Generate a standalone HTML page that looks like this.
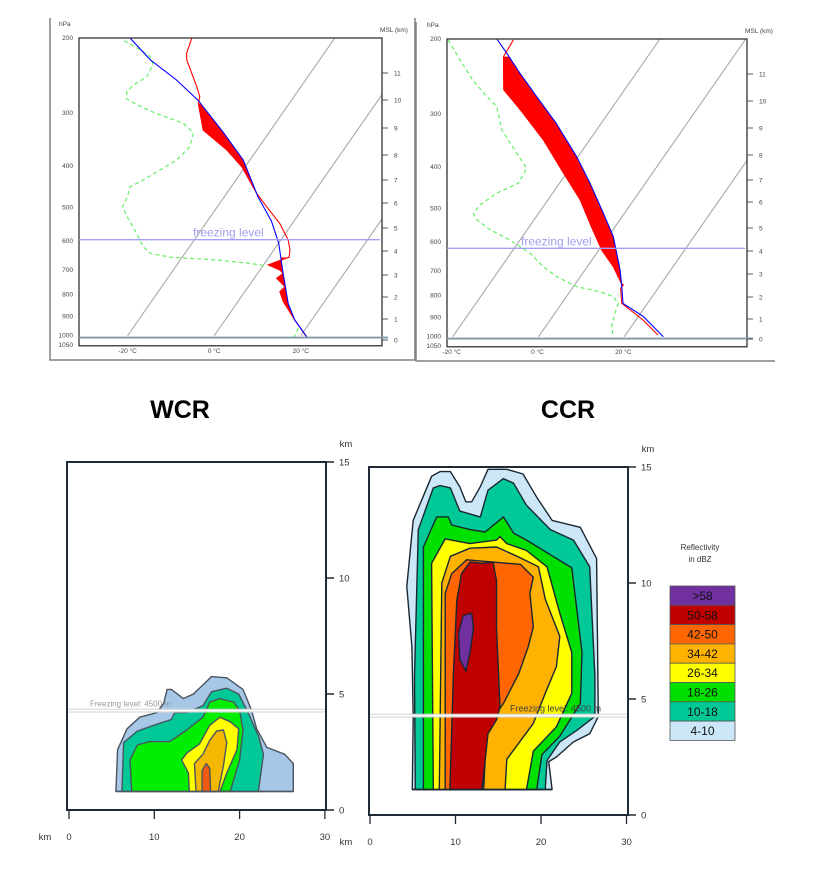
<!DOCTYPE html>
<html><head><meta charset="utf-8"><style>
html,body{margin:0;padding:0;background:#fff;}
svg{display:block;font-family:"Liberation Sans","DejaVu Sans",sans-serif;}
</style></head><body>
<svg id="root" width="820" height="880" viewBox="0 0 820 880" xmlns="http://www.w3.org/2000/svg">
<defs>
<clipPath id="clipL"><rect x="79" y="38" width="303" height="309"/></clipPath>
<clipPath id="clipR"><rect x="447" y="39" width="300" height="308"/></clipPath>
</defs>
<g id="skewL"></g>
<g id="skewR"></g>
<text x="180" y="418" font-size="25" font-weight="bold" text-anchor="middle">WCR</text>
<text x="568" y="418" font-size="25" font-weight="bold" text-anchor="middle">CCR</text>
<g id="radL"></g>
<g id="radR"></g>
<g id="legend"></g>
</svg>
<script>
// ---------- Skew-T data (T in °C, p in hPa) ----------
const wcrTempP=[200,217,225,260,275,285,329,366,401,463,498,545,596,629,654,661,682,701,714,733,767,788,832,919,1012];
const wcrTempT=[-53,-51.8,-50.7,-44.1,-41.7,-41,-35.6,-27,-20.8,-13.1,-8.6,-2.9,1.7,3.7,4.7,3.7,1.1,4.6,5.9,5.2,8.5,8.1,10.5,16.1,21.9];
const wcrParcelP=[200,225,251,280,334,387,472,537,606,714,840,919,1012];
const wcrParcelT=[-67.3,-59.1,-49.8,-41.6,-30.4,-21.5,-12.2,-5.3,0,5.9,11.9,16.1,21.9];
const wcrDewP=[203,211,221,231,247,258,267,277,287,301,317,334,360,387,408,431,447,463,485,498,525,575,618,640,654,664,676,686];
const wcrDewT=[-68.2,-64.1,-59.7,-57.7,-57.2,-59,-59.4,-58.5,-55,-49,-41.3,-37.4,-36,-36.9,-39.1,-41.4,-43.4,-42.7,-42.1,-41.9,-39.3,-34.4,-30.7,-28.1,-22.8,-11.6,-3.4,0.9];
const wcrDewSfcP=[960,1012];
const wcrDewSfcT=[18.2,18.8];
const wcrFillRanges=[[285,470],[655,919]];
const ccrTempP=[201,214,220,263,293,345,413,477,552,626,685,750,756,770,835,914,991];
const ccrTempT=[-54,-53.7,-53.6,-48.2,-41.1,-30.8,-20.7,-12.5,-5.5,0.7,6.1,10.7,11.4,11.3,14,21.7,27.6];
const ccrParcelP=[200,216,241,273,316,378,436,513,582,697,763,835,897,1000];
const ccrParcelT=[-58,-53.4,-47,-39.4,-30.4,-20.3,-12.9,-4.9,1.2,8.2,11.3,14.3,21.2,29.1];
const ccrDewP=[201,224,250,273,288,327,371,402,436,460,490,513,532,561,593,637,685,723,763,784,805,835,881,947,996];
const ccrDewT=[-69.2,-63.2,-56.9,-51,-47.1,-42.1,-34.8,-30.1,-29.6,-33,-35,-35.2,-33.3,-28.6,-22.3,-15.5,-10.2,-5.5,0.8,7,10.9,13.2,14,15.4,17.3];
const ccrFillRanges=[[220,756]];
const pressureTicks=[200,300,400,500,600,700,800,900,1000,1050];
const isotherms=[-20,0,20];
const kmTicksL=[0,1,2,3,4,5,6,7,8,9,10,11];
const kmTickYL=[340,319,297,275,251,228,203,180,155,128,100,73];
const kmTicksR=[0,1,2,3,4,5,6,7,8,9,10,11];
const kmTickYR=[339,319,297,274,251,228,202,180,155,128,101,74];

// ---------- Radar data (x in km, height in km) ----------
const wcrLevels=['4-10','10-18','18-26','26-34','34-42','42-50'];
const wcrColors=['#a7c7e7','#00c896','#00ee00','#ffff00','#f5b800','#f05a10'];
const wcrContour0=[[5.5,0.8],[5.7,2.6],[6.8,3.5],[8.3,4.0],[10.3,4.2],[11.1,4.6],[11.5,5.2],[12.0,5.2],[13.4,4.8],[14.6,5.0],[16.7,5.75],[18.5,5.7],[20.4,5.2],[21.4,4.3],[22.0,3.5],[23.2,2.7],[25.3,2.4],[26.3,2.0],[26.3,0.8]];
const wcrContour1=[[6.2,0.8],[6.4,2.9],[8.0,3.4],[10.3,3.7],[12.0,3.9],[12.4,4.2],[13.8,4.2],[15.7,4.5],[16.7,5.1],[18.5,5.25],[19.9,5.0],[21.0,4.2],[22.2,3.2],[22.8,2.4],[22.2,0.8]];
const wcrContour2=[[7.35,0.8],[7.15,2.15],[8.0,2.8],[9.5,2.95],[11.8,2.95],[13.8,3.45],[15.7,4.0],[16.5,4.65],[17.7,4.8],[19.3,4.65],[20.0,4.3],[20.4,3.45],[20.0,2.15],[18.9,0.8]];
const wcrContour3=[[14.1,0.8],[14.0,1.6],[13.2,2.15],[13.8,2.45],[15.3,2.85],[16.5,3.65],[17.7,4.0],[18.9,3.8],[19.9,3.5],[19.7,2.6],[18.5,1.6],[17.7,0.8]];
const wcrContour4=[[14.9,0.8],[14.7,2.0],[15.7,2.4],[16.5,3.0],[17.3,3.4],[18.1,3.45],[18.5,2.9],[18.1,1.9],[17.5,0.8]];
const wcrContour5=[[15.6,0.8],[15.6,1.7],[16.1,2.0],[16.5,1.8],[16.6,0.8]];
const ccrLevels=['>58','50-58','42-50','34-42','26-34','18-26','10-18','4-10'];
const ccrColors=['#7030a0','#c00000','#ff6600','#ffb300','#ffff00','#00e000','#00c896','#cce8f8'];
const ccrContour0=[[4.95,1.1],[5.05,4.25],[4.9,7.25],[4.3,9.85],[5.05,12.7],[7.2,14.6],[8.2,14.8],[9.4,14.8],[10.5,14.15],[11.2,13.5],[11.9,13.5],[12.9,14.15],[13.8,14.9],[16.0,14.9],[17.9,14.7],[19.5,13.7],[21.3,12.7],[24.6,12.4],[26.5,11.05],[26.7,4.25],[25.7,3.5],[23.8,3.15],[21.8,2.5],[20.9,2.3],[21.3,1.1]];
const ccrContour1=[[5.3,1.1],[5.2,6.0],[5.65,12.3],[7.4,14.1],[8.2,14.2],[9.4,14.1],[10.5,13.1],[12.9,12.85],[13.8,14.0],[15.6,14.5],[16.8,14.3],[18.3,13.35],[21.1,12.3],[23.8,11.85],[25.7,10.7],[26.3,6.0],[26.3,4.25],[24.2,3.65],[22.2,3.15],[20.7,2.35],[20.5,1.1]];
const ccrContour2=[[6.25,1.1],[6.25,11.55],[7.8,12.85],[9.15,12.85],[9.55,12.5],[11.7,12.3],[13.45,12.2],[14.8,12.6],[15.6,12.85],[16.8,12.15],[18.3,11.85],[21.4,11.15],[23.6,10.65],[24.8,7.0],[24.6,4.8],[22.2,3.4],[20.1,2.6],[19.5,1.1]];
const ccrContour3=[[7.4,1.1],[7.2,10.85],[8.8,11.9],[11.7,11.7],[14.8,11.85],[15.2,12.0],[16.0,11.7],[18.3,11.4],[20.7,10.7],[22.2,8.7],[23.6,7.0],[23.6,5.25],[21.8,3.8],[19.1,2.75],[18.3,1.1]];
const ccrContour4=[[8.1,1.1],[8.4,10.0],[9.4,11.15],[11.7,11.5],[14.8,11.55],[17.2,11.15],[19.7,10.7],[20.5,9.3],[22.2,7.7],[21.8,6.4],[20.5,5.25],[19.1,3.95],[16.0,2.4],[15.8,1.1]];
const ccrContour5=[[8.8,1.1],[8.8,9.55],[9.55,10.4],[11.3,11.0],[14.4,10.9],[17.6,10.8],[19.1,10.25],[18.7,9.55],[19.1,8.1],[18.5,7.25],[17.4,6.1],[15.6,4.8],[13.65,3.8],[13.3,1.1]];
const ccrContour6=[[9.35,1.1],[9.75,6.1],[10.15,9.25],[10.7,10.4],[11.7,10.9],[13.1,10.85],[14.4,10.9],[14.8,10.1],[14.8,8.1],[15.2,4.65],[14.8,4.1],[13.8,3.5],[13.1,1.1]];
const ccrContour7=[[10.35,7.85],[10.9,8.6],[11.9,8.7],[12.1,8.1],[11.7,7.0],[11.2,6.2],[10.5,6.7]];
const kmHeightTicks=[0,5,10,15];
const kmRangeTicks=[0,10,20,30];
const freezingKm=4.5;

const NS='http://www.w3.org/2000/svg';
function mk(parent,tag,attrs,text){const e=document.createElementNS(NS,tag);for(const k in attrs)e.setAttribute(k,attrs[k]);if(text!==undefined)e.textContent=text;parent.appendChild(e);return e;}

function skewT(g,o){
  const yP=p=>o.y0+185*Math.log(p/200);
  const xT=(T,p)=>o.x0+o.kx*T+0.696*(336-yP(p));
  const path=(P,T)=>P.map((p,i)=>(i?'L':'M')+xT(T[i],p).toFixed(1)+','+yP(p).toFixed(1)).join('');
  const interp=(P,T,p)=>{for(let i=0;i<P.length-1;i++){if(p>=P[i]&&p<=P[i+1]){const f=Math.log(p/P[i])/Math.log(P[i+1]/P[i]);return T[i]+f*(T[i+1]-T[i]);}}return p<P[0]?T[0]:T[T.length-1];};
  // frame
  const fr=mk(g,'path',{d:o.frame,fill:'none',stroke:'#808080','stroke-width':1.5});
  
  
  const cg=mk(g,'g',{'clip-path':'url(#'+o.clip+')'});
  isotherms.forEach(T=>{
    const l=mk(cg,'line',{x1:xT(T,1000),y1:yP(1000),x2:xT(T,200),y2:yP(200),stroke:'#a0a0a0','stroke-width':1});
    
    
  });
  // fill
  o.fills.forEach(r=>{
    let pts=[];const pa=r[0],pb=r[1];
    pts.push([interp(o.tP,o.tT,pa),pa]);
    o.tP.forEach((p,i)=>{if(p>pa&&p<pb)pts.push([o.tT[i],p]);});
    pts.push([interp(o.tP,o.tT,pb),pb]);
    const back=[];back.push([interp(o.pP,o.pT,pb),pb]);
    for(let i=o.pP.length-1;i>=0;i--){const p=o.pP[i];if(p>pa&&p<pb)back.push([o.pT[i],p]);}
    back.push([interp(o.pP,o.pT,pa),pa]);
    pts=pts.concat(back);
    const f=mk(cg,'path',{d:pts.map((q,i)=>(i?'L':'M')+xT(q[0],q[1]).toFixed(1)+','+yP(q[1]).toFixed(1)).join('')+'Z',fill:'#ff0000',stroke:'none'});
    
    
  });
  const dw=mk(cg,'path',{d:path(o.dP,o.dT),fill:'none',stroke:'#66ee66','stroke-width':1.2,'stroke-dasharray':'4,3'});
  
  
  if(o.dsP){const d2=mk(cg,'path',{d:path(o.dsP,o.dsT),fill:'none',stroke:'#66ee66','stroke-width':1.2,'stroke-dasharray':'4,3'});
    
    }
  const tl=mk(cg,'path',{d:path(o.tP,o.tT),fill:'none',stroke:'#ff0000','stroke-width':1.1});
  
  
  const pl=mk(cg,'path',{d:path(o.pP,o.pT),fill:'none',stroke:'#0000ff','stroke-width':1.1});
  
  
  // box
  const bx=mk(g,'rect',{x:o.bx,y:o.y0,width:o.bw,height:yP(1050)-o.y0+1,fill:'none',stroke:'#333','stroke-width':1.3});
  
  
  const sf=mk(g,'line',{x1:o.bx,x2:o.bx+o.bw+6,y1:yP(1010),y2:yP(1010),stroke:'#7f98a8','stroke-width':1.8});
  
  
  const fz=mk(g,'line',{x1:o.bx,x2:o.bx+o.bw-2,y1:yP(o.fzP),y2:yP(o.fzP),stroke:'#a0a0f8','stroke-width':1.3});
  
  
  const ft=mk(g,'text',{x:o.fzX,y:yP(o.fzP)-3,'font-size':12,fill:'#a0a0f0'},'freezing level');
  
  
  pressureTicks.forEach(p=>{
    const t=mk(g,'text',{x:o.bx-6,y:yP(p)+2,'font-size':6.5,'text-anchor':'end',fill:'#444'},String(p));
    
    
  });
  const hp=mk(g,'text',{x:o.bx-20,y:o.y0-12,'font-size':6.5,fill:'#444'},'hPa');
  
  
  isotherms.forEach(T=>{
    const t=mk(g,'text',{x:xT(T,1000)+o.lblDx,y:o.lblY,'font-size':6.5,'text-anchor':'middle',fill:'#444'},T+' °C');
    
    
  });
  o.km.forEach((k,i)=>{
    const y=o.kmY[i];
    const tk=mk(g,'line',{x1:o.bx+o.bw,x2:o.bx+o.bw+6,y1:y,y2:y,stroke:'#333','stroke-width':0.8});
    
    
    const t=mk(g,'text',{x:o.bx+o.bw+12,y:y+2.5,'font-size':6.5,fill:'#444'},String(k));
    
    
  });
  const mt=mk(g,'text',{x:o.bx+o.bw+12,y:o.y0-6,'font-size':6.5,fill:'#444','text-anchor':'middle'},'MSL (km)');
  
  
}

skewT(document.getElementById('skewL'),{y0:38,x0:214,kx:4.33,bx:79,bw:303,clip:'clipL',
  frame:'M50,18 L50,360 L415,360 L415,18',
  tP:wcrTempP,tT:wcrTempT,pP:wcrParcelP,pT:wcrParcelT,dP:wcrDewP,dT:wcrDewT,dsP:wcrDewSfcP,dsT:wcrDewSfcT,
  fills:wcrFillRanges,fzP:595,fzX:193,lblY:353,lblDx:0,km:kmTicksL,kmY:kmTickYL});
skewT(document.getElementById('skewR'),{y0:39,x0:539,kx:4.29,bx:447,bw:300,clip:'clipR',
  frame:'M416,22 L416,361 L775,361',
  tP:ccrTempP,tT:ccrTempT,pP:ccrParcelP,pT:ccrParcelT,dP:ccrDewP,dT:ccrDewT,
  fills:ccrFillRanges,fzP:620,fzX:521,lblY:354,lblDx:-1,km:kmTicksR,kmY:kmTickYR});

function radar(g,o){
  const X=v=>o.x0+v*o.kx, Y=h=>o.y0-h*23.2;
  o.contours.forEach((c,i)=>{
    const p=mk(g,'path',{d:c.map((q,j)=>(j?'L':'M')+X(q[0]).toFixed(1)+','+Y(q[1]).toFixed(1)).join('')+'Z',fill:o.colors[i],stroke:o.stroke,'stroke-width':1.4,'stroke-linejoin':'round'});
    
    
  });
  const fy=Y(freezingKm)-(o.fzOff||0);
  const fl=mk(g,'line',{x1:o.bx+1,x2:o.bx+o.bw,y1:fy,y2:fy,stroke:'#d8d8d8','stroke-width':4,opacity:0.9});
  
  
  const fl2=mk(g,'line',{x1:o.bx+1,x2:o.bx+o.bw,y1:fy,y2:fy,stroke:'#fff','stroke-width':1.5});
  
  
  const ft=mk(g,'text',{x:o.fzX,y:fy-4,'font-size':o.fzSize,fill:o.fzFill},'Freezing level:  4500 m');
  
  
  const bl=mk(g,'line',{x1:X(o.baseX[0]),x2:X(o.baseX[1]),y1:Y(o.baseH),y2:Y(o.baseH),stroke:o.stroke,'stroke-width':1.5});
  
  
  const box=mk(g,'rect',{x:o.bx,y:Y(15),width:o.bw,height:Y(0)-Y(15),fill:'none',stroke:'#1e2a35','stroke-width':2});
  
  
  kmHeightTicks.forEach(h=>{
    const tk=mk(g,'line',{x1:o.bx+o.bw,x2:o.bx+o.bw+8,y1:Y(h),y2:Y(h),stroke:'#1e2a35','stroke-width':1.5});
    
    
    const t=mk(g,'text',{x:o.bx+o.bw+13,y:Y(h)+3.5,'font-size':9.5,fill:'#333'},String(h));
    
    
  });
  kmRangeTicks.forEach(v=>{
    const tk=mk(g,'line',{x1:X(v),x2:X(v),y1:Y(0),y2:Y(0)+9,stroke:'#1e2a35','stroke-width':1.3});
    
    
    const t=mk(g,'text',{x:X(v),y:Y(0)+30,'font-size':9.5,fill:'#333','text-anchor':'middle'},String(v));
    
    
  });
  const k1=mk(g,'text',{x:o.kmX,y:Y(0)+30,'font-size':9.5,fill:'#333','text-anchor':'middle'},'km');
  
  
  const k2=mk(g,'text',{x:o.bx+o.bw+20,y:Y(15)-15,'font-size':9.5,fill:'#333','text-anchor':'middle'},'km');
  
  
}
radar(document.getElementById('radL'),{x0:69,kx:8.53,y0:810,bx:67,bw:259,levels:wcrLevels,colors:wcrColors,stroke:'#4a5560',
  contours:[wcrContour0,wcrContour1,wcrContour2,wcrContour3,wcrContour4,wcrContour5],
  baseX:[5.5,26.3],baseH:0.8,fzX:90,fzSize:8,fzFill:'#999',kmX:45,fzOff:-5});
radar(document.getElementById('radR'),{x0:370,kx:8.55,y0:815,bx:369,bw:259,levels:ccrLevels.slice().reverse(),colors:ccrColors.slice().reverse(),stroke:'#1a2630',
  contours:[ccrContour0,ccrContour1,ccrContour2,ccrContour3,ccrContour4,ccrContour5,ccrContour6,ccrContour7],
  baseX:[4.95,21.3],baseH:1.1,fzX:510,fzSize:9,fzFill:'#444',kmX:346,fzOff:-5});

// legend
(function(){
  const g=document.getElementById('legend');
  const t1=mk(g,'text',{x:700,y:550,'font-size':8,fill:'#333','text-anchor':'middle'},'Reflectivity');
  
  
  const t2=mk(g,'text',{x:700,y:562,'font-size':8,fill:'#333','text-anchor':'middle'},'in dBZ');
  
  
  ccrLevels.forEach((lv,i)=>{
    const y=586+i*19.3;
    const r=mk(g,'rect',{x:670,y:y,width:65,height:19.3,fill:ccrColors[i],stroke:'#555','stroke-width':0.8});
    
    
    const t=mk(g,'text',{x:702.5,y:y+14,'font-size':12,fill:'#111','text-anchor':'middle'},lv);
    
    
  });
})();
</script>
</body></html>
